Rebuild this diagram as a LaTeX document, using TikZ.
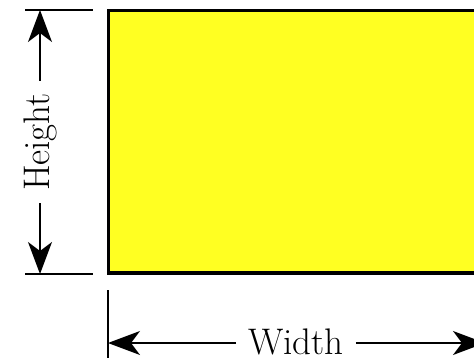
\documentclass[tikz,border=0pt]{standalone}
\usetikzlibrary{arrows.meta}
\definecolor{fillyellow}{RGB}{255,255,34}
\begin{document}
\begin{tikzpicture}[x=1pt,y=-1pt,
  dimarrow/.style={line width=1.4pt,-{Stealth[length=32pt,width=24pt,inset=9pt]}},
  extline/.style={line width=1.4pt},
  lbl/.style={font=\fontsize{37}{44}\selectfont, inner xsep=12pt, inner ysep=0pt}]
\useasboundingbox (0,0) rectangle (474,358);
\clip (0,0) rectangle (474,358);
\draw[line width=3.2pt, fill=fillyellow] (108.5,10.5) rectangle (485,273);
% height dimension
\coordinate (htop0) at (25,10);
\coordinate (htop1) at (93,10);
\coordinate (hbot0) at (25,274);
\coordinate (hbot1) at (93,274);
\draw[extline] (htop0) -- (htop1);
\draw[extline] (hbot0) -- (hbot1);
\coordinate (hA) at (40,10);
\coordinate (hB) at (40,274);
\node[lbl, rotate=90] (hlabel) at (40,142) {Height};
\draw[dimarrow] (hlabel) -- (hA);
\draw[dimarrow] (hlabel) -- (hB);
% width dimension
\coordinate (wt0) at (108,290);
\coordinate (wt1) at (108,360);
\draw[extline] (wt0) -- (wt1);
\coordinate (wA) at (108,343);
\coordinate (wB) at (485,343);
\node[lbl] (wlabel) at (296,341.5) {Width};
\draw[dimarrow] (wlabel.west |- wA) -- (wA);
\draw[dimarrow] (wlabel.east |- wB) -- (wB);
\end{tikzpicture}
\end{document}
